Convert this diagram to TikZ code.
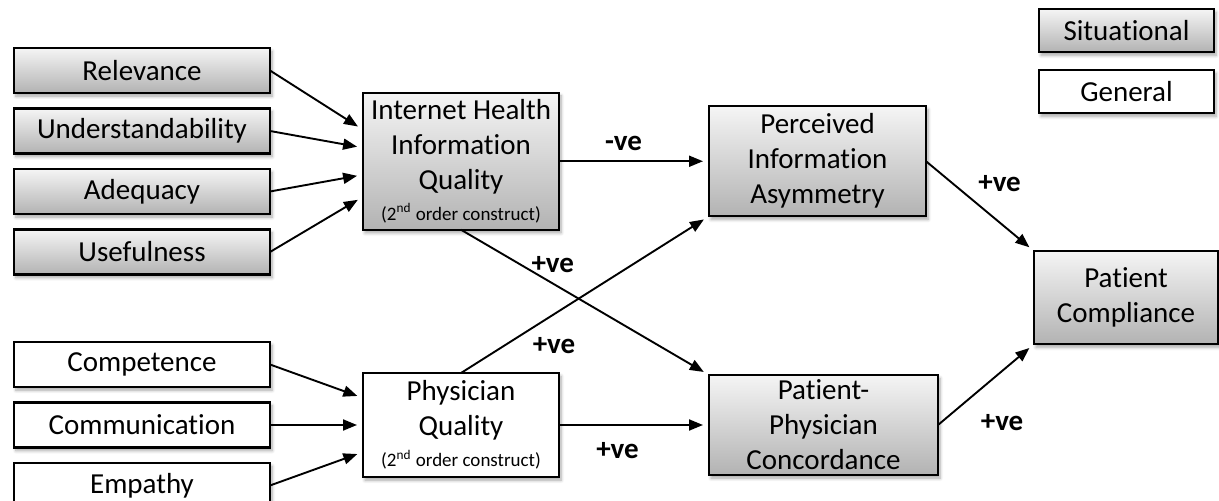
\documentclass[tikz,border=0pt]{standalone}
\usepackage{fontspec}
\setmainfont{Carlito}[Ligatures=NoCommon]
\usetikzlibrary{positioning,calc,arrows.meta,shadows.blur}
\tikzset{
    box/.style={rectangle, draw=black, line width=1.1pt, outer sep=0pt, inner sep=2pt, text centered, align=center, font=\fontsize{14.5}{17.5}\selectfont, blur shadow={shadow xshift=1pt, shadow yshift=-1.6pt, shadow blur steps=6, shadow blur radius=1.6pt, shadow opacity=35}},
    situational/.style={box, top color=gray!8, bottom color=gray!60},
    general/.style={box, fill=white},
    item/.style={minimum width=128pt, minimum height=22.5pt},
    legend/.style={minimum width=87.5pt, minimum height=21.5pt},
    line/.style={-{Triangle[length=7pt,width=5.5pt]}, line width=0.95pt, shorten >=3pt},
    sign/.style={font=\bfseries\fontsize{14.5}{17}\selectfont, inner sep=3pt},
}
\newcommand{\ordernote}{\\[-2pt]{\fontsize{9.5}{11}\selectfont (2\textsuperscript{nd} order construct)}}

\begin{document}
\begin{tikzpicture}
        [node distance=7.75pt]
        \useasboundingbox (-71pt,-215.25pt) rectangle (538.5pt,35.25pt);

        % Dimensions of internet health information quality
        \node[situational,item] (relevance) {Relevance};
        \node[situational,item,below=of relevance] (understand) {Understandability};
        \node[situational,item,below=of understand] (adequacy) {Adequacy};
        \node[situational,item,below=of adequacy] (usefulness) {Usefulness};

        % Dimensions of physician quality
        \node[general,item,below=33.75pt of usefulness] (competence) {Competence};
        \node[general,item,below=of competence] (communication) {Communication};
        \node[general,item,below=of communication] (empathy) {Empathy};

        % Constructs
        \coordinate (infomid) at ($(understand.east)!0.5!(adequacy.east)$);
        \node[situational,minimum width=98pt,minimum height=68.5pt,right=46.5pt of infomid] (ihiq) {Internet Health\\Information\\Quality\ordernote};
        \node[general,minimum width=98pt,minimum height=52pt,right=46.5pt of communication] (pq) {Physician\\Quality\ordernote};
        \node[situational,minimum width=108.5pt,minimum height=55pt,right=75pt of ihiq] (pia) {Perceived\\Information\\Asymmetry};
        \node[situational,minimum width=114.5pt,minimum height=50pt,right=75pt of pq] (ppc) {Patient-\\Physician\\Concordance};
        \coordinate (outmid) at ($(pia.east)!0.5!(ppc.east)$);
        \node[situational,minimum width=92pt,minimum height=46.5pt,right=51pt of outmid,yshift=-2.25pt] (pc) {Patient\\Compliance};

        % Legend
        \node[general,legend,above=69pt of pc.north east,anchor=south east,xshift=-2pt] (leggen) {General};
        \node[situational,legend,above=9pt of leggen] (legsit) {Situational};

        % Lines into the second order constructs
        \draw[line] (relevance.east) -- ([yshift=15.75pt]ihiq.west);
        \draw[line] (understand.east) -- ([yshift=6.75pt]ihiq.west);
        \draw[line] (adequacy.east) -- ([yshift=-6.75pt]ihiq.west);
        \draw[line] (usefulness.east) -- ([yshift=-17.75pt]ihiq.west);
        \draw[line] (competence.east) -- ([yshift=13.5pt]pq.west);
        \draw[line] (communication.east) -- (pq.west);
        \draw[line] (empathy.east) -- ([yshift=-13.5pt]pq.west);

        % Hypothesised effects
        \draw[line] (ihiq.east) -- node[sign,pos=0.43,above=2pt] {-ve} (pia.west);
        \draw[line] (ihiq.south) -- node[sign,pos=0.37,above=2pt] {+ve} (ppc.north west);
        \draw[line] (pq.north) -- node[sign,pos=0.375,below=8pt] {+ve} (pia.south west);
        \draw[line] (pq.east) -- node[sign,pos=0.39,below=5pt] {+ve} (ppc.west);
        \draw[line] (pia.east) -- node[sign,pos=0.42,above right] {+ve} (pc.north west);
        \draw[line] (ppc.east) -- node[sign,pos=0.3,below right=5pt] {+ve} (pc.south west);

    \end{tikzpicture}
\end{document}
